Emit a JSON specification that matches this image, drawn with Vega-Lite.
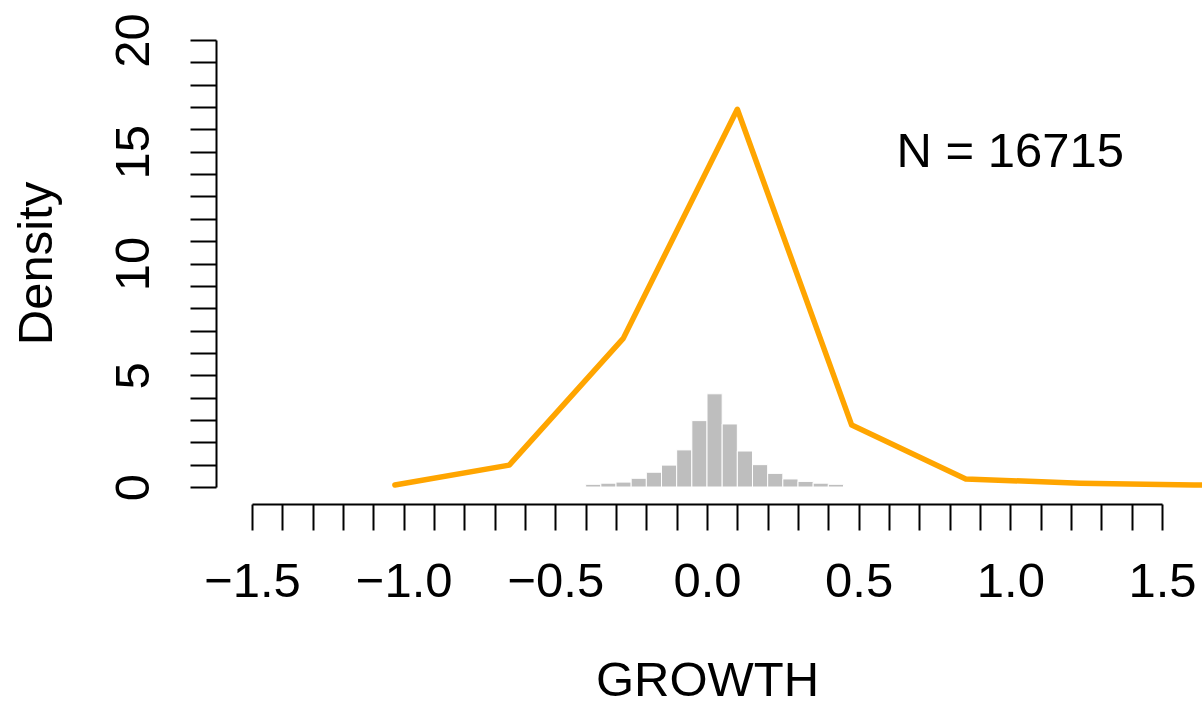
{
  "$schema": "https://vega.github.io/schema/vega-lite/v6.json",
  "width": 910,
  "height": 447,
  "autosize": {"type": "none"},
  "padding": {"left": 252, "top": 40, "right": 40, "bottom": 217},
  "background": "white",
  "config": {"font": "Liberation Sans", "view": {"stroke": null}, "axis": {"grid": false}},
  "datasets": {
    "hist": [
      {"x": -0.40, "xe": -0.35, "y": 0.12},
      {"x": -0.35, "xe": -0.30, "y": 0.17},
      {"x": -0.30, "xe": -0.25, "y": 0.22},
      {"x": -0.25, "xe": -0.20, "y": 0.39},
      {"x": -0.20, "xe": -0.15, "y": 0.66},
      {"x": -0.15, "xe": -0.10, "y": 0.98},
      {"x": -0.10, "xe": -0.05, "y": 1.66},
      {"x": -0.05, "xe": 0.00, "y": 2.97},
      {"x": 0.00, "xe": 0.05, "y": 4.17},
      {"x": 0.05, "xe": 0.10, "y": 2.82},
      {"x": 0.10, "xe": 0.15, "y": 1.61},
      {"x": 0.15, "xe": 0.20, "y": 1.00},
      {"x": 0.20, "xe": 0.25, "y": 0.61},
      {"x": 0.25, "xe": 0.30, "y": 0.36},
      {"x": 0.30, "xe": 0.35, "y": 0.25},
      {"x": 0.35, "xe": 0.40, "y": 0.17},
      {"x": 0.40, "xe": 0.45, "y": 0.12}
    ],
    "dens": [
      {"x": -1.029, "y": 0.09},
      {"x": -0.652, "y": 0.98},
      {"x": -0.276, "y": 6.65},
      {"x": 0.100, "y": 16.9},
      {"x": 0.477, "y": 2.77},
      {"x": 0.853, "y": 0.36},
      {"x": 1.230, "y": 0.17},
      {"x": 1.606, "y": 0.09},
      {"x": 1.983, "y": 0.05}
    ],
    "note": [
      {"x": 1.0, "y": 15, "label": "N = 16715"}
    ]
  },
  "encoding": {
    "x": {
      "field": "x",
      "type": "quantitative",
      "title": "GROWTH",
      "scale": {"domain": [-1.5, 1.5], "nice": false, "zero": false, "padding": 0},
      "axis": {
        "orient": "bottom",
        "offset": 17,
        "values": [-1.5, -1.4, -1.3, -1.2, -1.1, -1.0, -0.9, -0.8, -0.7, -0.6, -0.5, -0.4, -0.3, -0.2, -0.1, 0, 0.1, 0.2, 0.3, 0.4, 0.5, 0.6, 0.7, 0.8, 0.9, 1.0, 1.1, 1.2, 1.3, 1.4, 1.5],
        "labelExpr": "abs(round(datum.value*10)) % 5 == 0 ? format(datum.value, '.1f') : ''",
        "labelOverlap": false,
        "labelFlush": false,
        "labelBound": false,
        "domainColor": "black",
        "domainWidth": 2,
        "tickColor": "black",
        "tickWidth": 2,
        "tickSize": 26,
        "labelPadding": 27,
        "labelFontSize": 49,
        "labelColor": "black",
        "labelFont": "Liberation Sans",
        "titleFont": "Liberation Sans",
        "titleFontSize": 49,
        "titleFontWeight": "normal",
        "titleColor": "black",
        "titleBaseline": "alphabetic",
        "titleAlign": "center",
        "titleX": 455,
        "titleY": 191
      }
    },
    "y": {
      "field": "y",
      "type": "quantitative",
      "title": "Density",
      "scale": {"domain": [0, 20], "nice": false, "padding": 0},
      "axis": {
        "orient": "left",
        "offset": 36,
        "values": [0, 1, 2, 3, 4, 5, 6, 7, 8, 9, 10, 11, 12, 13, 14, 15, 16, 17, 18, 19, 20],
        "labelExpr": "datum.value % 5 == 0 ? datum.label : ''",
        "labelOverlap": false,
        "labelFlush": false,
        "labelBound": false,
        "labelAngle": -90,
        "labelAlign": "center",
        "labelBaseline": "bottom",
        "domainColor": "black",
        "domainWidth": 2,
        "tickColor": "black",
        "tickWidth": 2,
        "tickSize": 26,
        "labelPadding": 32,
        "labelFontSize": 49,
        "labelColor": "black",
        "labelFont": "Liberation Sans",
        "titleFont": "Liberation Sans",
        "titleFontSize": 49,
        "titleFontWeight": "normal",
        "titleColor": "black",
        "titleAngle": -90,
        "titleBaseline": "alphabetic",
        "titleAlign": "center",
        "titleX": -165,
        "titleY": 223
      }
    }
  },
  "layer": [
    {
      "data": {"name": "hist"},
      "mark": {"type": "bar", "color": "#BEBEBE", "stroke": "white", "strokeWidth": 1},
      "encoding": {"x2": {"field": "xe"}, "y2": {"datum": 0}}
    },
    {
      "data": {"name": "dens"},
      "mark": {"type": "line", "color": "#FFA500", "strokeWidth": 5.5, "strokeJoin": "round", "strokeCap": "round"}
    },
    {
      "data": {"name": "note"},
      "mark": {"type": "text", "fontSize": 49, "align": "center", "baseline": "middle", "color": "black", "font": "Liberation Sans"},
      "encoding": {"text": {"field": "label"}}
    }
  ]
}
